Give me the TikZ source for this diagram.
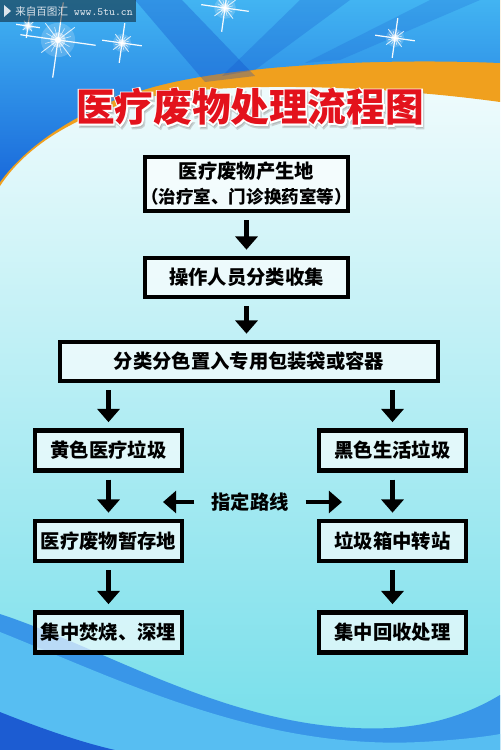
\documentclass[tikz,border=0pt]{standalone}
\usepackage{fontspec}
\usepackage{xcolor}
\usetikzlibrary{arrows.meta,positioning}
\newfontfamily\cjk{Noto Sans CJK SC}
\definecolor{mwSky}{HTML}{42B4F2}
\definecolor{mwDeep}{HTML}{1A6ADB}
\definecolor{mwRay}{HTML}{0C48C8}
\definecolor{mwOrange}{HTML}{F0A01E}
\definecolor{mwPale}{HTML}{C4F2F5}
\definecolor{mwCyan}{HTML}{74DEEA}
\definecolor{mwWave}{HTML}{3996E8}
\definecolor{mwWaveLt}{HTML}{57BEF2}
\definecolor{mwNavy}{HTML}{1C5CD2}
\definecolor{mwRed}{HTML}{E3121C}
\definecolor{mwMark}{HTML}{DCE4EC}
% sparkle: x, y, ray length (all in px)
\newcommand{\sparkle}[3]{%
  \fill[white,opacity=.18] (#1,#2) circle[radius=#3*.45];
  \fill[white,opacity=.45] (#1,#2) circle[radius=#3*.2];
  \foreach \a in {0,90,180,270}
    \draw[white,line width=.7pt,opacity=.95] (#1,#2) -- ++(\a+8:#3);
  \foreach \a in {45,135,225,315}
    \draw[white,line width=.5pt,opacity=.8] (#1,#2) -- ++(\a+8:#3*.55);
  \foreach \a in {22,67,112,157,202,247,292,337}
    \draw[white,line width=.35pt,opacity=.7] (#1,#2) -- ++(\a+8:#3*.35);
  \fill[white] (#1,#2) circle[radius=#3*.08];
}
\tikzset{
  box/.style={draw=black,line width=2.5pt,fill=white,fill opacity=.65,text opacity=1,
              inner sep=0pt,align=center,font=\cjk\bfseries\fontsize{11}{14.2}\selectfont},
  sbox/.style={box,minimum width=2.94cm,minimum height=.8cm},
  arr/.style={-{Triangle[width=12.5pt,length=7.5pt]},line width=2.8pt,
              shorten <=4pt,shorten >=3.5pt},
  ttl/.style={font=\cjk\bfseries\fontsize{22}{26}\selectfont,inner sep=0pt},
}

\begin{document}
\begin{tikzpicture}[x=0.02cm,y=-0.02cm]
    \useasboundingbox (0,0) rectangle (500,750);
    \clip (0,0) rectangle (500,750);
    % --- backdrop
    \shade[top color=white,middle color=mwPale,bottom color=mwCyan] (0,0) rectangle (500,750);
    \fill[mwOrange] (0,0) -- (500,0) -- (500,102) .. controls (400,88) and (250,80) .. (160,95)
      .. controls (90,108) and (30,140) .. (0,186) -- cycle;
    \shade[top color=mwSky,bottom color=mwDeep] (0,0) -- (500,0) -- (500,63)
      .. controls (380,58) and (230,65) .. (150,88) .. controls (90,105) and (30,140) .. (0,182) -- cycle;
    \fill[mwRay,opacity=.3] (135,0) -- (182,0) -- (255,76) -- (205,82) -- cycle;
    \fill[mwRay,opacity=.22] (300,0) -- (350,0) -- (255,70) -- (222,76) -- cycle;
    \fill[mwRay,opacity=.18] (430,0) -- (480,0) -- (340,60) -- (305,63) -- cycle;
    \fill[mwWave] (0,614) .. controls (110,650) and (240,735) .. (390,728)
      .. controls (440,725) and (475,710) .. (500,695) -- (500,750) -- (0,750) -- cycle;
    \fill[mwWaveLt] (0,632) .. controls (120,680) and (260,750) .. (420,742)
      .. controls (460,740) and (490,736) .. (500,734) -- (500,750) -- (0,750) -- cycle;
    \fill[mwNavy] (0,712) .. controls (40,728) and (80,742) .. (115,750) -- (0,750) -- cycle;
    % --- sparkles
    \sparkle{58}{40}{38}
    \sparkle{28}{26}{12}
    \sparkle{122}{43}{20}
    \sparkle{225}{8}{24}
    \sparkle{395}{38}{20}
    % --- watermark strip
    \fill[black,opacity=.45] (0,0) rectangle (136,22);
    \fill[mwMark] (4,5) -- (11,11) -- (4,17) -- cycle;
    \node[anchor=west,inner sep=0pt,text=mwMark] (mark) at (15,11)
      {{\cjk\fontsize{6}{7}\selectfont 来自百图汇}\ {\ttfamily\fontsize{6.3}{7}\selectfont www.5tu.cn}};
    % --- title
    \node[ttl,text=black!40,opacity=.4] (titleshadow) at (251.5,109.5)
      {\addfontfeature{FakeBold=7}医疗废物处理流程图};
    \node[ttl,text=white] (titlehalo) at (250,107) {\addfontfeature{FakeBold=7}医疗废物处理流程图};
    \node[ttl,text=mwRed] (title) at (250,107) {医疗废物处理流程图};
    % --- main column
    \node[box,minimum width=4.06cm,minimum height=1.08cm] (src) at (246.5,184)
      {医疗废物产生地\\{\fontsize{10}{14}\selectfont\kern-.35em（治疗室、门诊换药室等）\kern-.35em}};
    \node[box,minimum width=4.06cm,minimum height=.78cm] (collect) at (246.5,277.5) {操作人员分类收集};
    \node[box,minimum width=7.56cm,minimum height=.78cm] (pack) at (249,361.5) {分类分色置入专用包装袋或容器};
    % --- two branches
    \node[sbox] (yellow)   at (108.5,450.5) {黄色医疗垃圾};
    \node[sbox] (black)    at (392.5,450.5) {黑色生活垃圾};
    \node[sbox] (store)    at (108.5,541)   {医疗废物暂存地};
    \node[sbox] (transfer) at (392.5,541)   {垃圾箱中转站};
    \node[sbox] (burn)     at (108.5,632.5) {集中焚烧、深埋};
    \node[sbox] (recycle)  at (392.5,632.5) {集中回收处理};
    \node[font=\cjk\bfseries\fontsize{11}{13}\selectfont,inner sep=0pt,inner xsep=9.5pt] (route) at (250,502) {指定路线};
    \coordinate (routeL) at (163,502);
    \coordinate (routeR) at (342,502);

    \draw[arr] (src) -- (collect);
    \draw[arr] (collect.south) -- (collect.south |- pack.north);
    \draw[arr] (pack.south -| yellow) -- (yellow);
    \draw[arr] (pack.south -| black) -- (black);
    \draw[arr] (yellow) -- (store);
    \draw[arr] (black) -- (transfer);
    \draw[arr] (store) -- (burn);
    \draw[arr] (transfer) -- (recycle);
    \draw[arr,shorten <=0pt,shorten >=0pt] (route) -- (routeL);
    \draw[arr,shorten <=0pt,shorten >=0pt] (route) -- (routeR);
  \end{tikzpicture}
\end{document}
